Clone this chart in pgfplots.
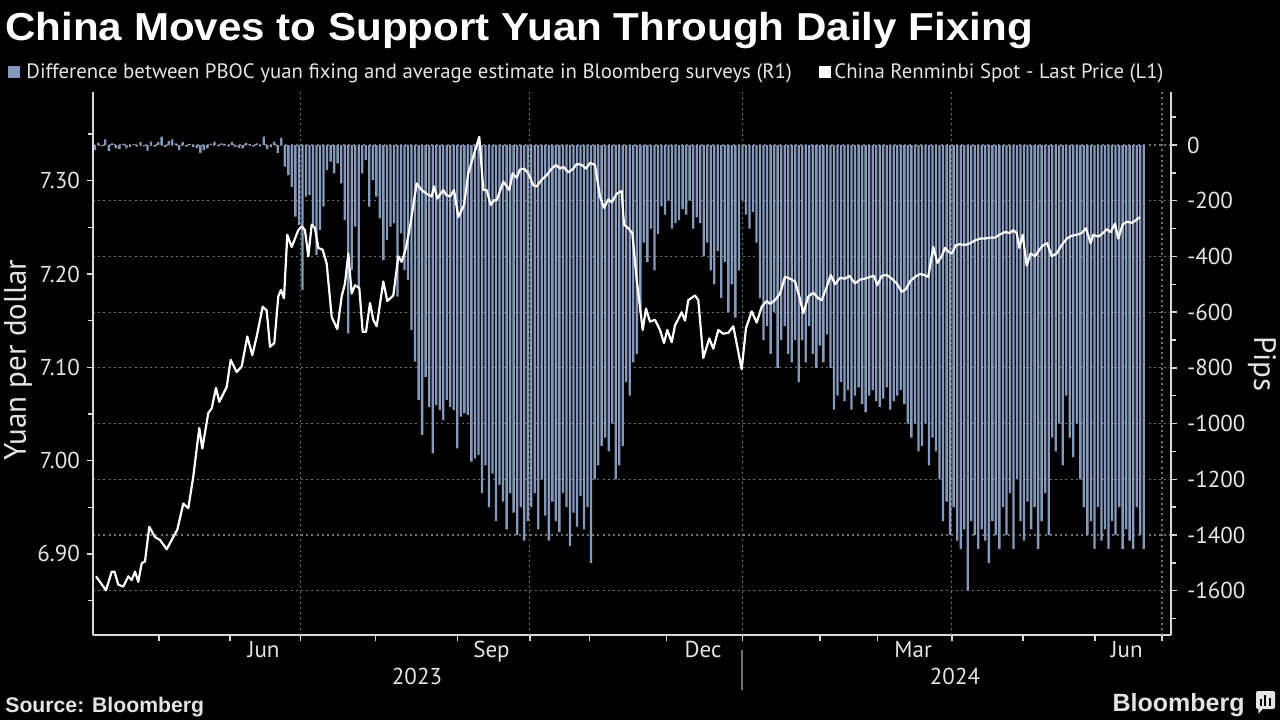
\documentclass[border=0pt]{standalone}
\usepackage{pgfplots}
\pgfplotsset{compat=1.18}
\usepackage{pgfplotstable}
\usepackage{fontspec}
\setmainfont{PT Sans}
\newfontfamily\titlefont[FakeStretch=1.08]{Liberation Sans}
\newfontfamily\boldfont{Liberation Sans}
\definecolor{barc}{HTML}{8599BC}
\definecolor{gridc}{HTML}{707070}
\definecolor{txt}{HTML}{E4E4E4}
\definecolor{axc}{HTML}{D8D8D8}

\pgfplotstableread{
px v
96 6.876
106 6.861
111.7 6.881
114.5 6.881
118.3 6.867
123.3 6.865
128.3 6.876
131.7 6.872
135 6.881
138.3 6.870
141.7 6.890
145 6.892
149.3 6.929
155 6.918
160 6.915
166.7 6.905
171.7 6.915
177.3 6.926
183.3 6.954
188.3 6.949
193.3 6.983
199.3 7.035
202.3 7.013
208.3 7.051
211.7 7.056
216 7.078
219.3 7.063
226.7 7.079
230.7 7.108
236.7 7.095
241.7 7.101
247.3 7.133
252.3 7.113
256.7 7.133
262.7 7.165
266.7 7.161
270 7.122
274.3 7.126
278.3 7.176
281 7.183
284 7.174
287.3 7.242
291.7 7.229
298.3 7.247
301.7 7.251
305 7.247
308.3 7.219
311.7 7.253
315 7.249
318.3 7.228
322.7 7.226
326.7 7.211
331.7 7.154
337.3 7.141
341.7 7.176
345 7.190
348.3 7.222
351.7 7.179
355 7.188
359.3 7.185
362.7 7.138
366 7.138
370 7.169
373.3 7.151
376.7 7.144
383.3 7.192
387.3 7.171
393.3 7.177
398.3 7.219
401.7 7.213
406 7.228
410 7.251
416.7 7.297
421.7 7.290
426.7 7.286
431.7 7.283
434 7.294
437.3 7.281
443.3 7.290
446 7.285
450 7.283
454 7.290
458.3 7.261
464 7.274
468.3 7.308
473.3 7.326
479.3 7.347
483.3 7.290
486.7 7.290
490.7 7.274
494 7.279
496.7 7.279
503.3 7.299
506.7 7.294
509.3 7.290
512.7 7.308
516.7 7.303
520 7.312
524 7.313
528.3 7.308
533.3 7.295
536.7 7.294
541.7 7.301
546.7 7.306
551.7 7.313
556 7.317
560 7.313
563.3 7.315
568.3 7.309
573.3 7.313
576.7 7.318
581.7 7.317
586 7.313
590 7.319
595 7.317
600 7.283
604 7.271
608.3 7.280
611.7 7.277
616.7 7.286
621.7 7.289
624 7.253
628.3 7.249
632.3 7.244
636.7 7.194
642.7 7.140
646 7.163
650 7.149
655 7.151
660 7.140
664 7.126
667.3 7.140
671.7 7.127
675 7.145
681.7 7.159
685 7.150
688.3 7.172
695 7.177
698.3 7.172
703.3 7.110
709.3 7.131
713.3 7.120
718.3 7.140
723.3 7.136
728.3 7.137
733.3 7.144
737.3 7.122
741.7 7.098
746 7.142
751.7 7.160
756.7 7.148
761.7 7.165
766.7 7.171
770 7.168
775 7.172
780 7.179
785 7.197
790 7.195
795 7.192
799.3 7.176
803.3 7.158
808.3 7.176
813.3 7.180
818.3 7.174
821.7 7.172
826.7 7.186
830.7 7.199
835 7.189
840 7.196
845 7.195
849.3 7.198
855 7.190
860 7.194
865 7.195
870 7.197
874 7.198
877.3 7.188
881.7 7.198
886.7 7.199
891.7 7.195
896.7 7.190
901.7 7.181
906 7.184
910 7.192
915 7.197
920 7.200
924 7.199
928.3 7.197
933.3 7.229
937.3 7.212
941.7 7.219
945 7.228
948.3 7.224
951.7 7.222
956 7.231
960 7.232
965 7.231
970 7.233
975 7.236
980 7.238
985 7.238
990 7.239
995 7.239
999.3 7.242
1005 7.245
1010 7.244
1013.3 7.247
1016.7 7.244
1019.3 7.228
1022.7 7.242
1026.7 7.209
1030.7 7.222
1035 7.219
1039.3 7.226
1043.3 7.231
1047.3 7.233
1051.7 7.219
1056.7 7.222
1061.7 7.231
1066.7 7.238
1071.7 7.241
1076.7 7.242
1081.7 7.244
1086 7.249
1090.7 7.233
1093.3 7.242
1098.3 7.240
1103.3 7.244
1106.7 7.248
1110.7 7.245
1115 7.254
1118.3 7.238
1122.7 7.253
1126.7 7.256
1131.7 7.255
1135 7.257
1140 7.261
}\spot

\begin{document}
\begin{tikzpicture}[x=1pt,y=1pt]
\fill[black] (0,0) rectangle (640,360);
\coordinate (O) at (46.5pt,42.5pt);

% ---------- right axis: fixing minus survey estimate (pips) ----------
\begin{axis}[
  at={(O)}, anchor=south west, scale only axis,
  width=539pt, height=271.5pt,
  xmin=-0.5, xmax=305.75, ymin=-1759, ymax=190.3,
  axis x line*=bottom, axis y line*=right,
  axis line style={-, draw=axc, line width=0.7pt},
  every tick/.style={axc, line width=0.7pt},
  tick align=outside, major tick length=3pt, minor tick length=2.5pt,
  xtick={18.2,38.4,58.5,79.8,103.1,123.6,140.6,162.5,184.0,206.0,222.3,243.5,263.7,284.2,303.2},
  xticklabels={},
  extra x ticks={48.0,112.7,172.8,232.5,293.2},
  extra x tick labels={Jun,Sep,Dec,Mar,Jun},
  extra x tick style={major tick length=0pt, xticklabel style={yshift=0.5pt}},
  ytick={-1600,-1400,-1200,-1000,-800,-600,-400,-200,0},
  minor ytick={-1700,-1500,-1300,-1100,-900,-700,-500,-300,-100,100},
  ymajorgrids,
  major grid style={gridc, line width=0.6pt, dash pattern=on 1pt off 1.6pt},
  /pgf/number format/assume math mode=true,
  yticklabel style={/pgf/number format/1000 sep={}, xshift=1.5pt},
  tick label style={font=\fontsize{11.5}{13}\selectfont, text=txt},
]
\pgfplotsinvokeforeach{58.5,123.6,184.0,243.5,303.2}{
  \draw[gridc, line width=0.6pt, dash pattern=on 1pt off 1.6pt] (axis cs:#1,-1759) -- (axis cs:#1,190.3);
}
\addplot[ybar, bar width=0.66, bar shift=0pt, fill=barc, draw=none] coordinates {
(0,-18) (1,8) (2,-5) (3,20) (4,-22) (5,6) (6,-12) (7,-15) (8,5) (9,-12)
(10,-8) (11,4) (12,-6) (13,10) (14,-5) (15,-20) (16,12) (17,-6) (18,10) (19,30)
(20,-8) (21,14) (22,20) (23,6) (24,-18) (25,10) (26,-6) (27,4) (28,-8) (29,-10)
(30,-28) (31,-18) (32,-12) (33,5) (34,12) (35,-5) (36,6) (37,4) (38,-6) (39,10)
(40,-8) (41,-10) (42,-12) (43,8) (44,4) (45,-6) (46,6) (47,-5) (48,30) (49,-15)
(50,-8) (51,12) (52,-28) (53,25) (54,-78) (55,-108) (56,-150) (57,-257) (58,-287) (59,-520)
(60,-185) (61,-179) (62,-293) (63,-395) (64,-305) (65,-221) (66,-90) (67,-60) (68,-102) (69,-66)
(70,-138) (71,-269) (72,-676) (73,-449) (74,-293) (75,-515) (76,-102) (77,-54) (78,-221) (79,-126)
(80,-185) (81,-263) (82,-413) (83,-341) (84,-293) (85,-281) (86,-544) (87,-317) (88,-449) (89,-485)
(90,-664) (91,-778) (92,-915) (93,-1041) (94,-832) (95,-940) (96,-1107) (97,-934) (98,-952) (99,-987)
(100,-915) (101,-940) (102,-952) (103,-1089) (104,-975) (105,-963) (106,-969) (107,-1137) (108,-1125) (109,-1113)
(110,-1250) (111,-1150) (112,-1300) (113,-1180) (114,-1350) (115,-1220) (116,-1280) (117,-1380) (118,-1250) (119,-1320)
(120,-1400) (121,-1300) (122,-1420) (123,-1350) (124,-1300) (125,-1250) (126,-1380) (127,-1200) (128,-1330) (129,-1420)
(130,-1280) (131,-1350) (132,-1390) (133,-1250) (134,-1300) (135,-1440) (136,-1320) (137,-1370) (138,-1260) (139,-1380)
(140,-1300) (141,-1500) (142,-1200) (143,-1150) (144,-1080) (145,-1050) (146,-1100) (147,-1000) (148,-1200) (149,-1150)
(150,-1080) (151,-850) (152,-900) (153,-780) (154,-750) (155,-600) (156,-350) (157,-420) (158,-300) (159,-450)
(160,-320) (161,-220) (162,-250) (163,-200) (164,-300) (165,-280) (166,-270) (167,-230) (168,-250) (169,-200)
(170,-300) (171,-260) (172,-280) (173,-400) (174,-350) (175,-450) (176,-500) (177,-380) (178,-550) (179,-420)
(180,-600) (181,-500) (182,-620) (183,-450) (184,-200) (185,-250) (186,-300) (187,-240) (188,-350) (189,-550)
(190,-700) (191,-650) (192,-750) (193,-600) (194,-800) (195,-700) (196,-650) (197,-750) (198,-780) (199,-700)
(200,-850) (201,-700) (202,-780) (203,-650) (204,-750) (205,-800) (206,-720) (207,-780) (208,-680) (209,-800)
(210,-950) (211,-900) (212,-850) (213,-920) (214,-880) (215,-950) (216,-900) (217,-870) (218,-930) (219,-960)
(220,-900) (221,-880) (222,-920) (223,-940) (224,-910) (225,-870) (226,-950) (227,-920) (228,-900) (229,-880)
(230,-930) (231,-1000) (232,-1050) (233,-1000) (234,-1100) (235,-1080) (236,-1000) (237,-1150) (238,-1050) (239,-1100)
(240,-1200) (241,-1350) (242,-1280) (243,-1400) (244,-1300) (245,-1420) (246,-1450) (247,-1380) (248,-1600) (249,-1350)
(250,-1400) (251,-1450) (252,-1380) (253,-1420) (254,-1500) (255,-1350) (256,-1400) (257,-1450) (258,-1300) (259,-1400)
(260,-1250) (261,-1450) (262,-1200) (263,-1350) (264,-1420) (265,-1280) (266,-1380) (267,-1300) (268,-1450) (269,-1350)
(270,-1250) (271,-1400) (272,-1050) (273,-1100) (274,-1000) (275,-1150) (276,-900) (277,-1050) (278,-1120) (279,-1000)
(280,-1200) (281,-1300) (282,-1400) (283,-1350) (284,-1450) (285,-1300) (286,-1420) (287,-1380) (288,-1450) (289,-1350)
(290,-1400) (291,-1300) (292,-1450) (293,-1380) (294,-1420) (295,-1450) (296,-1300) (297,-1400) (298,-1450)
};
\end{axis}

% ---------- left axis: CNY spot ----------
\begin{axis}[
  at={(O)}, anchor=south west, scale only axis,
  width=539pt, height=271.5pt,
  xmin=-0.5, xmax=305.75, ymin=6.8131, ymax=7.3951,
  axis x line=none, axis y line*=left,
  axis line style={-, draw=axc, line width=0.7pt},
  every tick/.style={axc, line width=0.7pt},
  tick align=outside, major tick length=3pt, minor tick length=2.5pt,
  ytick={6.9,7.0,7.1,7.2,7.3},
  minor ytick={6.85,6.95,7.05,7.15,7.25,7.35},
  /pgf/number format/assume math mode=true,
  yticklabel style={/pgf/number format/.cd, fixed, fixed zerofill, precision=2},
  tick label style={font=\fontsize{11.5}{13}\selectfont, text=txt},
]
\addplot[white, line width=1.1pt, line join=round, mark=none]
  table[x expr={(\thisrow{px}-94.76)/3.52}, y=v] {\spot};
\end{axis}

% ---------- texts ----------
\node[anchor=base west, inner sep=0, text=white, font=\titlefont\bfseries\fontsize{19.5}{21}\selectfont] at (2.5,340) {China Moves to Support Yuan Through Daily Fixing};

\fill[barc] (4,321) rectangle (10,327);
\node[anchor=base west, inner sep=0, text=txt, font=\fontsize{10.4}{12}\selectfont] at (13,321) {Difference between PBOC yuan fixing and average estimate in Bloomberg surveys (R1)};
\fill[white] (409.5,321) rectangle (415.5,327);
\node[anchor=base west, inner sep=0, text=txt, font=\fontsize{10.4}{12}\selectfont] at (417,321) {China Renminbi Spot - Last Price (L1)};

\node[rotate=90, text=txt, font=\fontsize{15.5}{17}\selectfont] at (9,180) {Yuan per dollar};
\node[rotate=-90, text=txt, font=\fontsize{15.5}{17}\selectfont] at (631,178) {Pips};

\node[anchor=base, text=txt, inner sep=0, font=\fontsize{11.5}{13}\selectfont] at (208.5,18) {2023};
\node[anchor=base, text=txt, inner sep=0, font=\fontsize{11.5}{13}\selectfont] at (477.5,18) {2024};
\draw[gridc, line width=0.6pt] (371,15) -- (371,35);

\node[anchor=base west, inner sep=0, text=txt, font=\boldfont\bfseries\fontsize{10.6}{12}\selectfont] at (2.5,4) {Source: Bloomberg};
\node[anchor=base east, inner sep=0, text=txt, font=\boldfont\bfseries\fontsize{12.5}{14}\selectfont] at (622.5,4.5) {Bloomberg};
\fill[txt, rounded corners=1pt] (628,5.5) rectangle (637.5,14.5);
\fill[txt] (629.2,6) -- (629.2,3.2) -- (631.8,6) -- cycle;
\fill[black] (630,7.2) rectangle (630.9,10.5);
\fill[black] (632.2,7.2) rectangle (633.1,12.3);
\fill[black] (634.4,7.2) rectangle (635.3,11.2);

\pgfresetboundingbox
\path[use as bounding box] (0,0) rectangle (640,360);
\end{tikzpicture}
\end{document}
